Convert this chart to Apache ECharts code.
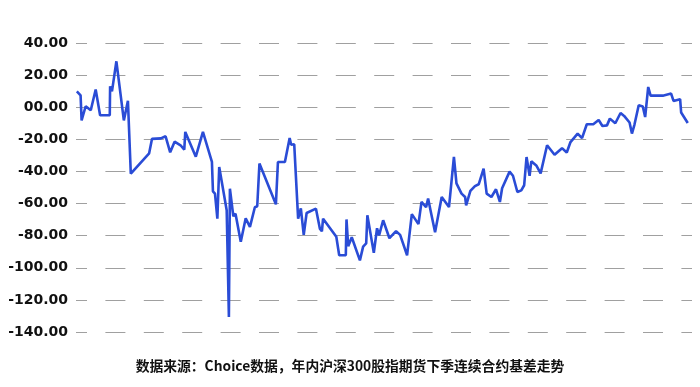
<!DOCTYPE html>
<html>
<head>
<meta charset="utf-8">
<script src="https://cdn.jsdelivr.net/npm/echarts@6/dist/echarts.min.js"></script>
<style>
html,body{margin:0;padding:0;background:#fff;}
#chart{width:700px;height:387px;}
</style>
</head>
<body>
<div id="chart"></div>
<script>
// Day position within the year (calendar days from start of year)
const days = [0.0,2.2,2.8,5.2,8.2,11.1,13.7,19.4,19.6,20.7,23.3,27.7,30.1,31.8,42.6,44.3,49.5,52.3,55.0,57.6,61.1,63.3,63.9,70.1,74.3,79.6,80.2,81.4,82.8,83.9,88.3,89.6,90.2,92.2,93.5,96.6,99.5,102.0,104.9,106.3,107.6,117.3,118.5,122.6,125.4,126.3,128.1,130.4,132.0,133.7,135.4,140.9,143.2,144.4,145.1,152.9,154.6,158.5,158.9,159.9,162.0,166.8,168.7,170.5,171.2,175.0,176.9,178.1,180.5,184.2,188.1,190.5,194.6,197.4,201.3,203.1,205.8,207.0,208.4,211.1,215.0,219.3,222.2,223.7,226.7,228.8,229.4,231.9,234.6,236.8,239.7,241.5,244.3,247.0,249.3,250.6,255.0,257.0,259.6,261.9,263.6,265.0,266.8,267.8,270.9,273.3,277.1,281.5,285.9,288.7,290.9,295.1,297.7,300.5,304.5,307.5,309.7,312.4,314.1,317.3,320.4,322.5,325.7,327.1,328.6,331.1,333.5,334.9,336.7,338.1,345.3,350.2,351.6,355.5,356.1,360.0];
// Basis of CSI 300 next-quarter futures contract
const basis = [9.9,7.4,-8.2,0.6,-1.9,11.0,-5.0,-5.0,13.0,9.9,28.6,-8.2,4.0,-41.4,-28.7,-19.7,-19.4,-18.1,-28.1,-21.5,-23.7,-26.4,-15.4,-30.8,-15.4,-34.1,-52.4,-53.8,-69.4,-37.2,-64.2,-130.7,-50.8,-67.9,-66.3,-83.8,-69.2,-74.5,-62.3,-61.7,-35.1,-60.5,-34.1,-34.1,-19.2,-23.4,-23.1,-69.4,-63.0,-79.5,-65.9,-63.2,-75.6,-77.3,-69.4,-80.7,-92.2,-92.2,-69.9,-86.6,-81.0,-95.4,-86.8,-84.8,-67.3,-90.7,-75.4,-79.8,-70.4,-81.6,-77.2,-79.5,-92.2,-66.6,-72.8,-59.0,-62.3,-56.9,-64.2,-77.9,-55.9,-62.2,-31.0,-47.4,-53.8,-55.9,-61.1,-52.1,-49.1,-48.0,-38.2,-53.8,-55.9,-51.1,-59.0,-50.5,-40.1,-42.7,-52.8,-51.8,-48.6,-31.0,-42.7,-33.7,-36.5,-41.2,-23.7,-29.6,-25.5,-28.2,-21.7,-16.4,-19.2,-10.6,-10.5,-8.0,-11.7,-11.3,-7.1,-10.0,-3.6,-5.4,-9.5,-16.4,-10.8,1.2,0.4,-6.1,12.6,7.2,7.2,8.5,3.9,5.0,-3.3,-9.8];
const yTicks = [-140,-120,-100,-80,-60,-40,-20,0,20,40];
const caption = '数据来源：Choice数据，年内沪深300股指期货下季连续合约基差走势';

const chart = echarts.init(document.getElementById('chart'), null, {renderer:'canvas'});
const seriesData = days.map((d,i)=>[d, basis[i]]);
chart.setOption({
  animation:false,
  backgroundColor:'#ffffff',
  grid:{left:76, right:8, top:43, bottom:55, containLabel:false},
  xAxis:{type:'value', min:-0.5, max:362.5, show:false, splitLine:{show:false}},
  yAxis:{
    type:'value', min:yTicks[0], max:yTicks[yTicks.length-1], interval:20,
    axisLine:{show:false}, axisTick:{show:false},
    axisLabel:{
      margin:8, color:'#111', fontSize:14, fontWeight:'bold',
      fontFamily:'"DejaVu Sans", sans-serif',
      formatter:(v)=> v===0 ? '00.00' : v.toFixed(2)
    },
    splitLine:{show:true, lineStyle:{color:'#a0a0a0', width:1.2, type:[20,18.4], dashOffset:9}}
  },
  graphic:[{
    type:'text', left:'center', top:359,
    style:{text:caption, fill:'#111', font:'bold 13.8px "Noto Sans CJK SC", sans-serif'}
  }],
  series:[{
    type:'line', data:seriesData, showSymbol:false, symbol:'none',
    lineStyle:{color:'#2a4cd6', width:2.6}, smooth:false
  }]
});
</script>
</body>
</html>
